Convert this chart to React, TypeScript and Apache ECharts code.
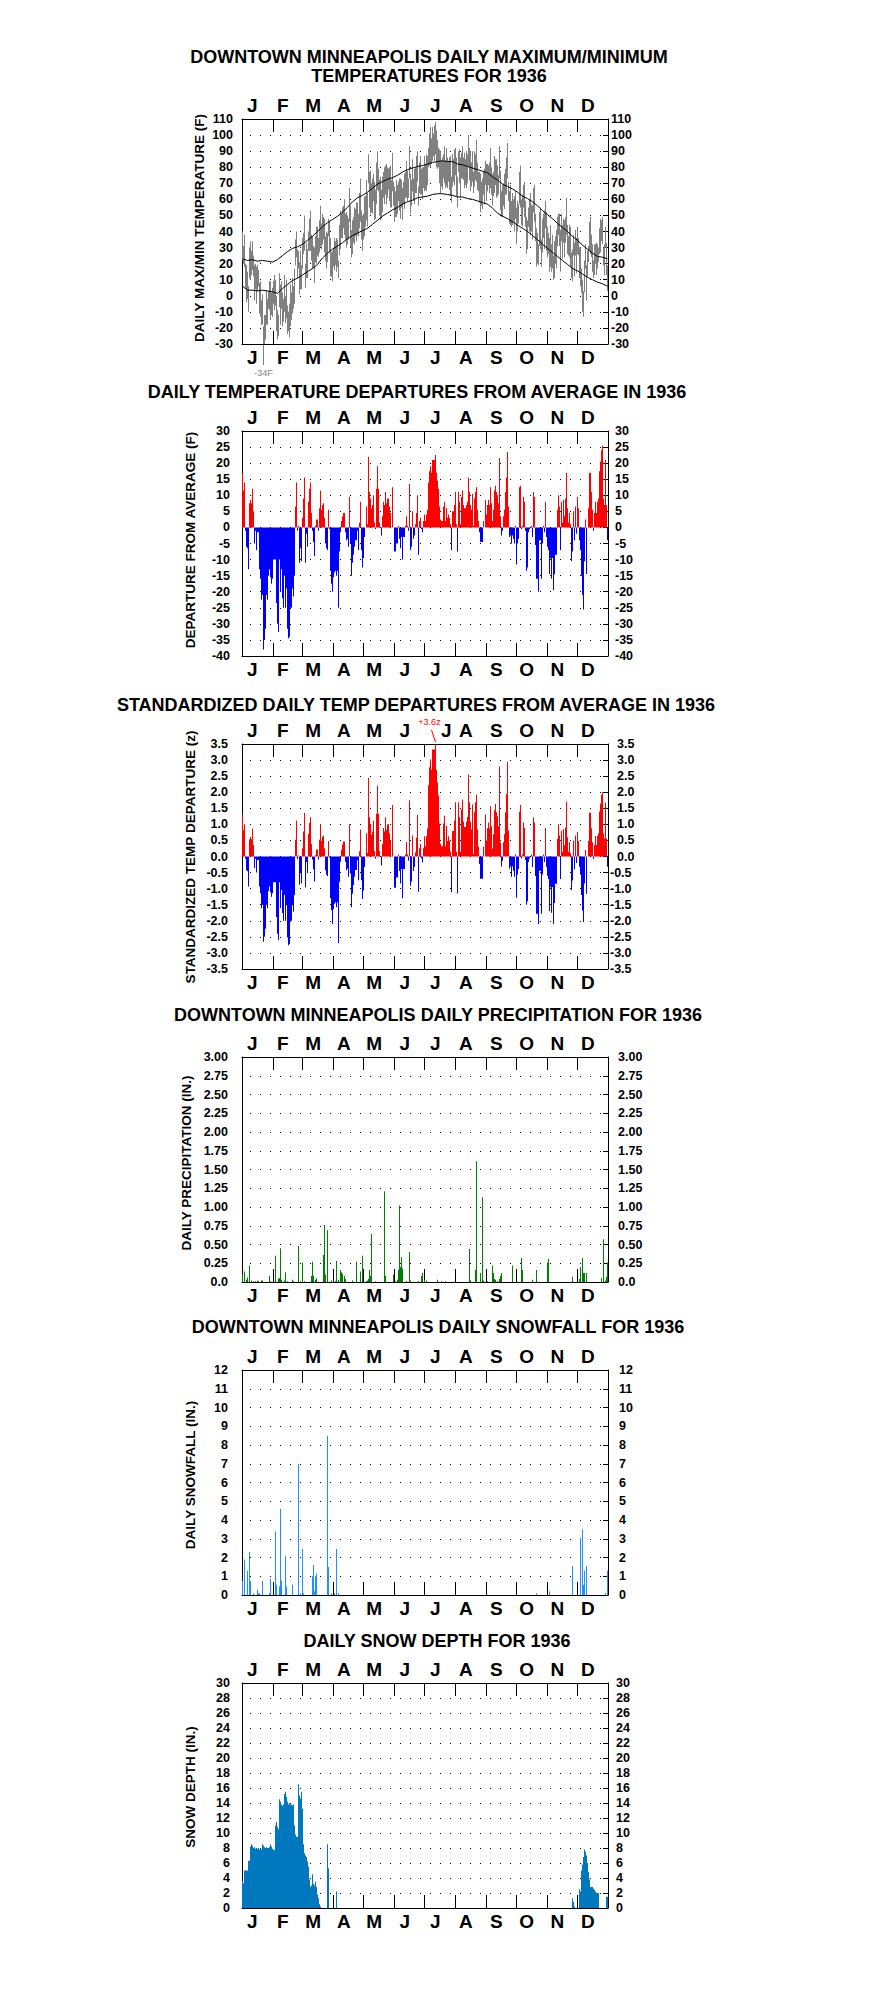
import React, { useEffect, useRef } from 'react';
import * as echarts from 'echarts';

// ---------- categories ----------
const MONTH_LETTERS = ['J', 'F', 'M', 'A', 'M', 'J', 'J', 'A', 'S', 'O', 'N', 'D'];
const MONTH_LENGTHS = [31, 29, 31, 30, 31, 30, 31, 31, 30, 31, 30, 31];

// ---------- panel 1: daily max / min (F) ----------
const tempMax = [
  40, 31, 38, 20, 19, 15, 6, 30, 34, 28, 34, 25, 19, 20, 18, 19, 16, 8, 9, -3, 1, -19, -12, -12, 3, -2, 3, 9, 9, 2, 5,
  9, 13, 10, 0, -9, -12, 14, 7, 9, 2, -2, 13, 0, 10, -6, -10, -5, 7, 2, 11, 6, 17, 35, 40, 29, 28, 21, 28, 19,
  36, 39, 50, 20, 33, 29, 40, 48, 53, 38, 37, 31, 30, 37, 43, 43, 36, 47, 56, 45, 51, 49, 48, 37, 40, 39, 48, 46, 36, 27, 28,
  30, 36, 34, 36, 35, 22, 44, 53, 51, 55, 56, 60, 51, 52, 50, 48, 67, 56, 41, 47, 49, 55, 54, 58, 58, 51, 64, 73, 53, 50,
  51, 62, 62, 72, 64, 88, 77, 78, 70, 73, 76, 71, 66, 83, 90, 79, 72, 74, 66, 74, 77, 80, 81, 82, 80, 79, 80, 81, 72, 89, 71,
  68, 65, 72, 69, 71, 73, 73, 72, 67, 71, 76, 77, 84, 78, 73, 93, 76, 72, 85, 73, 79, 80, 87, 90, 68, 83, 87, 79, 80, 80,
  87, 82, 88, 87, 92, 101, 105, 98, 105, 101, 106, 108, 103, 97, 92, 91, 90, 84, 86, 88, 93, 84, 92, 86, 84, 86, 87, 74, 88, 85, 91,
  92, 86, 74, 90, 91, 86, 89, 93, 86, 89, 85, 90, 88, 100, 92, 90, 83, 90, 77, 90, 88, 97, 83, 77, 77, 76, 71, 73, 77, 79, 84,
  82, 82, 81, 83, 92, 80, 76, 77, 87, 85, 85, 81, 75, 93, 78, 65, 69, 70, 76, 79, 86, 95, 71, 65, 69, 59, 64, 60, 62, 65,
  55, 59, 57, 77, 81, 60, 63, 69, 71, 59, 49, 47, 55, 60, 64, 57, 56, 67, 69, 51, 42, 39, 32, 52, 55, 35, 48, 51, 53, 59, 52,
  43, 39, 36, 44, 32, 38, 25, 34, 37, 41, 49, 51, 51, 41, 51, 44, 48, 47, 49, 61, 44, 37, 44, 43, 27, 29, 38, 33, 41, 36,
  43, 36, 30, 30, 17, 10, 3, 22, 32, 19, 28, 31, 46, 49, 38, 32, 22, 32, 32, 33, 32, 30, 42, 48, 47, 49, 30, 32, 43, 33, 19,
];
const tempMin = [
  22, 20, 18, 5, -4, -2, -10, 11, 10, 13, 16, 12, -3, 4, -5, 3, 6, -11, -13, -18, -18, -34, -32, -27, -18, -18, -8, -9, -15, -12, -13,
  -5, -9, -6, -22, -27, -25, -7, -18, -8, -19, -16, -10, -17, -14, -24, -22, -26, -19, -15, -11, -8, -5, 19, 24, 11, 17, 1, 4, 4,
  17, 26, 28, 5, 11, 11, 28, 28, 28, 22, 17, 17, 8, 21, 20, 25, 24, 27, 31, 29, 32, 35, 27, 22, 17, 21, 37, 27, 12, 12, 9,
  18, 16, 19, 15, 18, 11, 25, 29, 36, 36, 42, 38, 35, 30, 32, 35, 46, 30, 24, 26, 33, 32, 37, 34, 38, 37, 42, 46, 35, 28,
  35, 37, 43, 47, 43, 70, 55, 51, 52, 51, 59, 47, 48, 57, 66, 65, 50, 47, 48, 52, 61, 57, 63, 57, 61, 66, 59, 55, 55, 65, 56,
  46, 49, 49, 51, 59, 53, 48, 55, 47, 57, 54, 61, 61, 59, 61, 73, 51, 56, 65, 59, 57, 64, 64, 71, 56, 64, 63, 63, 60, 67,
  65, 66, 65, 69, 80, 81, 80, 82, 84, 87, 84, 88, 80, 79, 80, 70, 64, 68, 66, 73, 70, 67, 68, 67, 71, 66, 62, 58, 68, 71, 69,
  75, 62, 55, 77, 70, 61, 73, 73, 72, 67, 69, 67, 70, 80, 72, 65, 68, 71, 64, 68, 72, 71, 66, 65, 58, 52, 56, 54, 63, 57, 69,
  59, 65, 69, 64, 67, 63, 56, 62, 64, 69, 61, 62, 63, 73, 53, 49, 49, 56, 54, 63, 63, 73, 59, 45, 44, 43, 44, 46, 40, 48,
  32, 40, 45, 57, 55, 44, 43, 55, 49, 43, 26, 29, 43, 40, 38, 40, 35, 52, 46, 34, 18, 20, 19, 31, 29, 18, 27, 36, 29, 42, 28,
  24, 26, 15, 18, 15, 17, 10, 11, 20, 17, 31, 38, 31, 15, 34, 23, 33, 24, 33, 38, 26, 25, 24, 18, 11, 9, 25, 12, 25, 14,
  26, 25, 11, 6, 2, -10, -13, 2, 17, -3, 12, 21, 28, 26, 24, 15, 11, 13, 20, 13, 17, 21, 26, 27, 34, 32, 19, 13, 30, 13, 3,
];
const normalDays = [
  0, 5, 10, 15, 20, 25, 30, 35, 40, 45, 50, 55, 60, 65, 70, 75, 80, 85, 90, 95, 100, 105, 110, 115, 120, 125, 130, 135, 140, 145,
  150, 155, 160, 165, 170, 175, 180, 185, 190, 195, 200, 205, 210, 215, 220, 225, 230, 235, 240, 245, 250, 255, 260, 265, 270,
  275, 280, 285, 290, 295, 300, 305, 310, 315, 320, 325, 330, 335, 340, 345, 350, 355, 360, 365,
];
const normalHigh = [
  23, 22, 22.5, 21.5, 22, 21.5, 21, 22.5, 25, 27.5, 29.5, 30.5, 32, 34.5, 37, 40, 43, 45.5, 47.5, 49.5, 52, 55, 58.5, 61, 62.5,
  64.5, 67, 69.5, 71, 72.5, 73.5, 75, 77, 78.5, 79.5, 80.5, 81, 82, 83, 83.5, 84, 83.5, 83.5, 82, 81.5, 80.5, 79.5, 78.5, 77.5,
  76.5, 74, 72, 69.5, 68, 66.5, 64.5, 62, 60.5, 58.5, 56, 53, 50.5, 48, 45, 42.5, 40, 37, 34.5, 31.5, 29, 26.5, 24.5, 24, 23,
];
const normalLow = [
  6, 3.5, 3.5, 3, 3.5, 3, 2.5, 1.5, 4.5, 7, 9.5, 11, 13, 15, 17, 19.5, 23.5, 26.5, 29, 31, 33, 35.5, 37.5, 39, 40.5, 42, 44.5,
  47, 49.5, 51.5, 53.5, 55, 57, 58.5, 59.5, 61, 61.5, 62, 63, 63.5, 63.5, 63, 62.5, 61.5, 61.5, 60.5, 60, 59, 58, 57, 54.5,
  51.5, 49.5, 48, 46, 44, 42, 40, 37.5, 35, 32, 29.5, 27, 24.5, 22, 19.5, 17, 15.5, 13.5, 11.5, 10, 8.5, 7.5, 6,
];

// ---------- panel 2: departure from average (F) ----------
const departure = [
  17, 11.5, 14, -1, -6, -6.5, -13, 7.5, 8.5, 7.5, 12, 5, -5, -1, -7, -1.5, -1.5, -13, -16, -22.5, -21, -38, -35, -31.5, -21, -22.5, -15, -13, -15.5, -17.5, -16,
  -10, -10, -10, -23.5, -30, -32.5, -10, -20, -13, -22, -25, -15, -25, -19, -31.5, -34.5, -34, -25, -25, -19, -21.5, -15, 6.5, 14, -1, 0.5, -11, -6.5, -10.5,
  3, 9, 15.5, -11, -2, -6, 8, 12, 14, 4.5, -1, -4.5, -9, 0.5, 2.5, 2.5, -1, 6, 11.5, 5.5, 7, 7.5, 3, -5, -6.5, -7, 5.5, -0.5, -13.5, -17.5, -20,
  -15.5, -14, -13.5, -15, -13.5, -25, -7.5, -1.5, 2, 3.5, 4.5, 4.5, -1.5, -4, -3.5, -6, 9.5, -5, -15, -11, -8.5, -6, -4, -4, -1, -7, 1.5, 8, -7, -12.5,
  -9.5, -3, 0, 6.5, 1, 22, 11, 9, 6, 7, 10, 1.5, -0.5, 12, 19, 12, 1.5, 0, -2.5, 3.5, 8, 7, 11, 7.5, 9, 9, 6.5, 4.5, 0, 12.5, 0,
  -7.5, -7.5, -5, -5, 0.5, -3.5, -6.5, -3, -10, -3, -3, 0.5, 3.5, 0.5, -1, 13.5, -7, -6, 5, -3.5, -2.5, 1, 4.5, 10, -8.5, 2, 3, -0.5, -1.5, 2,
  4, 2, 4, 5.5, 14, 17.5, 19, 17, 21, 21, 21, 22.5, 17, 14.5, 12, 6.5, 2.5, 2, 2, 6.5, 8, 2, 6, 3, 4, 3, 1, -7, 5, 5, 7,
  11, 1, -7.5, 11, 8, 1, 9.5, 11.5, 7, 6, 6, 7, 8, 15.5, 11, 7, 5.5, 10.5, 0.5, 9, 11, 12.5, 5.5, 2, -1.5, -4.5, -4.5, -4.5, 2, 0, 8.5,
  4, 7, 8.5, 7, 12.5, 7.5, 2, 5.5, 11.5, 13, 11, 10, 7.5, 21.5, 3.5, -2.5, -1, 3.5, 5.5, 11, 15.5, 23.5, 6.5, -3, -2.5, -5, -2.5, -3.5, -5, 0.5,
  -11.5, -5, -3.5, 12.5, 13, -0.5, 0.5, 9.5, 8, -1, -13.5, -12.5, -1.5, -0.5, 0, 0.5, -3, 11, 9.5, -5.5, -16, -16, -20, -4, -4, -16, -5, 0.5, -1.5, 8, -3,
  -6, -7, -14.5, -9.5, -16, -9.5, -19.5, -14.5, -8.5, -8.5, 5.5, 10, 6.5, -7, 8, 1.5, 8.5, 3.5, 9, 17, 6, 1.5, 4.5, 1, -10.5, -7.5, 5, -4, 6.5, -2,
  9.5, 6, -4, -7, -15, -21, -25.5, -10.5, 2.5, -14.5, 0, 6, 17, 17, 11, 5.5, -1, 4.5, 8, 4.5, 8, 9, 17.5, 20.5, 24, 25.5, 9, 7, 21, 7, -4,
];

// ---------- panel 3: standardized departure (z) ----------
const zScore = [
  1.28, 0.82, 1.0, -0.07, -0.43, -0.46, -0.93, 0.54, 0.61, 0.54, 0.86, 0.36, -0.36, -0.07, -0.5, -0.11, -0.11, -0.93, -1.14, -1.61, -1.5, -2.65, -2.5, -2.25, -1.5, -1.61, -1.07, -0.93, -1.11, -1.25, -1.14,
  -0.8, -0.8, -0.8, -1.88, -2.4, -2.6, -0.8, -1.6, -1.04, -1.76, -2.0, -1.2, -2.0, -1.52, -2.52, -2.76, -2.72, -2.0, -2.0, -1.52, -1.72, -1.2, 0.52, 1.12, -0.08, 0.04, -0.88, -0.52, -0.84,
  0.26, 0.78, 1.35, -0.96, -0.17, -0.52, 0.7, 1.04, 1.22, 0.39, -0.09, -0.39, -0.78, 0.04, 0.22, 0.22, -0.09, 0.52, 1.0, 0.48, 0.61, 0.65, 0.26, -0.43, -0.57, -0.61, 0.48, -0.04, -1.29, -1.67, -2.1,
  -1.63, -1.47, -1.42, -1.58, -1.42, -2.7, -0.79, -0.16, 0.21, 0.37, 0.47, 0.47, -0.16, -0.42, -0.37, -0.63, 1.0, -0.53, -1.58, -1.16, -0.89, -0.63, -0.42, -0.42, -0.11, -0.74, 0.16, 0.84, -0.74, -1.32,
  -1.06, -0.33, 0, 0.72, 0.11, 2.44, 1.22, 1.0, 0.67, 0.78, 1.11, 0.17, -0.06, 1.33, 2.2, 1.33, 0.17, 0, -0.28, 0.39, 0.89, 0.78, 1.22, 0.83, 1.0, 1.0, 0.72, 0.5, 0, 1.6, 0,
  -0.97, -0.97, -0.65, -0.65, 0.06, -0.45, -0.84, -0.39, -1.3, -0.39, -0.39, 0.06, 0.45, 0.06, -0.13, 1.75, -0.91, -0.78, 0.65, -0.45, -0.32, 0.13, 0.58, 1.3, -1.1, 0.26, 0.39, -0.06, -0.19, 0.26,
  0.63, 0.32, 0.63, 0.87, 2.22, 2.78, 3.02, 2.7, 3.33, 3.33, 3.33, 3.6, 2.7, 2.3, 1.9, 1.03, 0.4, 0.32, 0.32, 1.03, 1.27, 0.32, 0.95, 0.48, 0.63, 0.48, 0.16, -1.11, 0.79, 0.79, 1.11,
  1.69, 0.15, -1.15, 1.69, 1.23, 0.15, 1.46, 1.77, 1.08, 0.92, 0.92, 1.08, 1.23, 2.55, 1.69, 1.08, 0.85, 1.62, 0.08, 1.38, 1.69, 1.92, 0.85, 0.31, -0.23, -0.69, -0.69, -0.69, 0.31, 0, 1.31,
  0.5, 0.88, 1.06, 0.88, 1.56, 0.94, 0.25, 0.69, 1.44, 1.63, 1.38, 1.25, 0.94, 2.8, 0.44, -0.31, -0.13, 0.44, 0.69, 1.38, 1.94, 2.95, 0.81, -0.38, -0.31, -0.63, -0.31, -0.44, -0.63, 0.06,
  -1.28, -0.56, -0.39, 1.39, 1.6, -0.06, 0.06, 1.06, 0.89, -0.11, -1.5, -1.39, -0.17, -0.06, 0, 0.06, -0.33, 1.22, 1.06, -0.61, -1.78, -1.78, -2.1, -0.44, -0.44, -1.78, -0.56, 0.06, -0.17, 0.89, -0.33,
  -0.6, -0.7, -1.7, -0.95, -1.75, -0.95, -2.1, -1.45, -0.85, -0.85, 0.55, 1.0, 0.65, -0.7, 0.8, 0.15, 0.85, 0.35, 0.9, 1.7, 0.6, 0.15, 0.45, 0.1, -1.05, -0.75, 0.5, -0.4, 0.65, -0.2,
  0.76, 0.48, -0.32, -0.56, -1.2, -1.68, -2.04, -0.84, 0.2, -1.16, 0, 0.48, 1.36, 1.36, 0.88, 0.44, -0.08, 0.36, 0.64, 0.36, 0.64, 0.72, 1.4, 1.64, 1.92, 2.0, 0.72, 0.56, 1.68, 0.56, -0.32,
];

// ---------- panel 4: precipitation (in.), days with measurable amounts ----------
const precipDays = [
  0, 2, 4, 5, 7, 9, 11, 13, 15, 16, 19, 20, 27, 28, 33, 36, 37, 38, 39, 42, 43, 45, 50, 51, 56, 58, 60, 62, 69, 70,
  71, 73, 74, 81, 82, 83, 85, 89, 91, 93, 94, 96, 98, 99, 100, 102, 103, 110, 114, 118, 120, 124, 125, 126, 127, 128, 129, 133, 142, 143,
  151, 153, 155, 156, 157, 158, 159, 160, 164, 167, 168, 176, 179, 180, 182, 184, 195, 199, 203, 227, 228, 233, 234, 238, 240, 241, 245, 250, 251, 252,
  253, 255, 257, 258, 259, 270, 279, 280, 290, 294, 305, 306, 330, 337, 338, 340, 341, 342, 344, 359, 361, 363, 364, 365,
];
const precipValues = [
  0.10, 0.14, 0.03, 0.06, 0.22, 0.02, 0.01, 0.01, 0.02, 0.01, 0.02, 0.02, 0.08, 0.01, 0.35, 0.05, 0.05, 0.45, 0.03, 0.02, 0.13, 0.01, 0.03, 0.01, 0.48, 0.01, 0.26, 0.01, 0.08, 0.27,
  0.08, 0.03, 0.05, 0.36, 0.76, 0.10, 0.69, 0.02, 0.01, 0.01, 0.28, 0.03, 0.16, 0.13, 0.11, 0.08, 0.04, 0.02, 0.27, 0.14, 0.35, 0.01, 0.02, 0.04, 0.16, 0.08, 0.64, 0.01, 1.21, 0.08,
  0.10, 0.01, 0.03, 0.16, 1.02, 0.20, 0.33, 0.18, 0.01, 0.40, 0.02, 0.01, 0.08, 0.12, 0.03, 0.02, 0.03, 0.01, 0.01, 0.44, 0.02, 0.16, 1.61, 0.12, 1.13, 0.02, 0.01, 0.22, 0.12, 0.04,
  0.03, 0.01, 0.04, 0.08, 0.12, 0.22, 0.32, 0.16, 0.03, 0.16, 0.26, 0.31, 0.07, 0.04, 0.20, 0.32, 0.12, 0.12, 0.12, 0.05, 0.57, 0.02, 0.07, 0.26,
];

// ---------- panel 5: snowfall (in.) ----------
const snowDays = [
  0, 2, 5, 7, 8, 11, 15, 16, 17, 20, 27, 28, 33, 34, 37, 38, 39, 43, 44, 50, 56, 58, 60, 61, 70, 71, 72, 73, 74, 85,
  86, 89, 92, 94, 96, 294, 307, 330, 338, 340, 341, 342, 344, 363, 365,
];
const snowValues = [
  0.75, 1.9, 1.3, 2.3, 0.75, 0.1, 0.3, 0.1, 0.1, 0.75, 0.1, 0.85, 3.4, 0.55, 0.45, 4.6, 0.75, 2.1, 0.45, 0.55, 7.0, 0.1, 2.45, 0.1, 1.0, 1.6, 0.2, 1.0, 1.15, 8.5,
  1.5, 0.1, 0.1, 2.45, 0.1, 0.1, 0.2, 1.55, 3.05, 3.5, 0.55, 1.3, 1.55, 0.1, 1.3,
];

// ---------- panel 6: snow depth (in.) ----------
const depthSpring = [ // Jan 1 onward
  3.6, 3.3, 5, 5, 5, 5, 6.3, 6.3, 8.2, 8.5, 8.3, 8.0, 8.1, 7.9, 8.0, 7.9, 8.0, 7.8, 7.9, 7.8, 8.5, 8.3, 8.1, 8.0, 8.1, 8.0, 8.0, 8.1, 8.5, 8.2,
  7.9, 7.8, 7.7, 11, 11.5, 10.8, 10.5, 14.5, 14.2, 13.8, 13.6, 13.8, 15.2, 15.5, 14.8, 14.2, 13.8, 14.0, 13.8, 13.8, 13.7, 13.8, 11, 9.8, 9.5, 9.5, 16.5, 15, 14.6, 15.5,
  13.2, 8.5, 7.3, 7.0, 6.8, 6.2, 5.5, 3.8, 2.8, 3.0, 4.5, 3.2, 3.0, 3.5, 2.8, 1.8, 1.3, 0.5, 0.2, 0, 0, 0, 0, 0, 0, 8.5, 5.3, 0, 0, 0,
  0, 0, 0, 0, 2.2,
];
const depthFallStart = 330; // Nov 26
const depthFall = [
  1.3, 0.8, 0.2, 0, 0, 0, 0, 2.5, 2.2, 5, 5.8, 6.8, 7.8, 7.5, 7.0, 6.0, 4.8, 3.8, 2.8, 2.8, 2.8, 2.6, 2.4, 2.2, 2.0, 2.0, 2.0, 0, 0, 0,
  0, 0, 0, 0, 1.5, 1.5,
];

// ---------- styling ----------
const FONT = '"Liberation Sans", Arial, Helvetica, sans-serif';
const GRAY = '#808080';
const RED = '#ff0000';
const BLUE = '#0000ff';
const GREEN = '#008000';
const SNOW_BLUE = '#1e90ff';
const DEPTH_BLUE = '#0078be';
const GRID_LEFT = 242;
const GRID_WIDTH = 366;
const GRID_HEIGHT = 225;
const GRID_TOPS = [119, 431, 744, 1057, 1370, 1683];
const FIG_SPACE = '\u2007';

const PANELS = [
  { min: -30, max: 110, interval: 10, fmt: (v: number) => String(v), lm: 9, rm: 3,
    name: 'DAILY MAX/MIN TEMPERATURE (F)', nx: 199, ny: 228,
    titles: [['DOWNTOWN MINNEAPOLIS DAILY MAXIMUM/MINIMUM', 429, 57], ['TEMPERATURES FOR 1936', 429, 76]] },
  { min: -40, max: 30, interval: 5, fmt: (v: number) => String(v), lm: 12, rm: 7,
    name: 'DEPARTURE FROM AVERAGE (F)', nx: 190, ny: 540,
    titles: [['DAILY TEMPERATURE DEPARTURES FROM AVERAGE IN 1936', 417, 392]] },
  { min: -3.5, max: 3.5, interval: 0.5, fmt: (v: number) => v.toFixed(1), lm: 14, rm: 2,
    rfmt: (v: number) => (v >= 0 ? FIG_SPACE + v.toFixed(1) : v.toFixed(1)),
    name: 'STANDARDIZED TEMP DEPARTURE (z)', nx: 190, ny: 857,
    titles: [['STANDARDIZED DAILY TEMP DEPARTURES FROM AVERAGE IN 1936', 416, 705]] },
  { min: 0, max: 3, interval: 0.25, fmt: (v: number) => (v === 0 ? '0.0' : v.toFixed(2)), lm: 14, rm: 10,
    name: 'DAILY PRECIPITATION (IN.)', nx: 186, ny: 1163,
    titles: [['DOWNTOWN MINNEAPOLIS DAILY PRECIPITATION FOR 1936', 438, 1015]] },
  { min: 0, max: 12, interval: 1, fmt: (v: number) => String(v), lm: 14, rm: 11,
    name: 'DAILY SNOWFALL (IN.)', nx: 190, ny: 1475,
    titles: [['DOWNTOWN MINNEAPOLIS DAILY SNOWFALL FOR 1936', 438, 1327]] },
  { min: 0, max: 30, interval: 2, fmt: (v: number) => String(v), lm: 12, rm: 8,
    name: 'SNOW DEPTH (IN.)', nx: 190, ny: 1787,
    titles: [['DAILY SNOW DEPTH FOR 1936', 437, 1641]] },
] as any[];

const LETTER_STYLE = { fontSize: 19, fontWeight: 'bold', fontFamily: FONT, color: '#000' };

function buildOption() {
  const nDays = MONTH_LENGTHS.reduce((a, b) => a + b, 0);
  const days = Array.from({ length: nDays }, (_, i) => String(i));
  const monthStarts = new Set<number>();
  let acc = 0;
  MONTH_LENGTHS.forEach((len) => { monthStarts.add(acc); acc += len; });
  const tickAt = (i: number) => i > 0 && monthStarts.has(i);

  const grid: any[] = [];
  const xAxis: any[] = [];
  const yAxis: any[] = [];
  PANELS.forEach((p, g) => {
    grid.push({ left: GRID_LEFT, top: GRID_TOPS[g], width: GRID_WIDTH, height: GRID_HEIGHT, outerBoundsMode: 'none', containLabel: false });
    const dayAxis = (position: string) => ({
      type: 'category', gridIndex: g, position, data: days, boundaryGap: true,
      axisLine: { show: true, onZero: false, lineStyle: { color: '#000', width: 1 } },
      axisTick: { show: true, inside: true, length: 13, interval: tickAt, lineStyle: { color: '#000', width: 1 } },
      axisLabel: { show: false }, splitLine: { show: false },
    });
    // on the standardized panel the July letter makes room for the peak annotation
    const shiftJuly = g === 2;
    const monthAxis = (position: string) => ({
      type: 'category', gridIndex: g, position, data: MONTH_LETTERS, boundaryGap: true,
      axisLine: { show: false, onZero: false }, axisTick: { show: false }, splitLine: { show: false },
      axisLabel: {
        interval: 0, ...LETTER_STYLE, margin: 4, padding: [0, 10, 0, 0],
        formatter: (v: string, i: number) => (shiftJuly && position === 'top' && i === 6 ? `{jul|${v}}` : v),
        rich: { jul: { ...LETTER_STYLE, padding: [0, 0, 0, 22] } },
      },
    });
    xAxis.push(dayAxis('bottom'), dayAxis('top'), monthAxis('top'), monthAxis('bottom'));
    const labelStyle = { fontSize: 12.5, fontWeight: 'bold', fontFamily: FONT, color: '#000' };
    yAxis.push({
      type: 'value', gridIndex: g, position: 'left', min: p.min, max: p.max, interval: p.interval,
      axisLine: { show: true, onZero: false, lineStyle: { color: '#000', width: 1 } },
      axisTick: { show: false },
      axisLabel: { ...labelStyle, margin: p.lm, formatter: p.fmt },
      splitLine: { show: true, lineStyle: { color: '#000', width: 1, type: [1, 9], dashOffset: 2 } },
    }, {
      type: 'value', gridIndex: g, position: 'right', min: p.min, max: p.max, interval: p.interval,
      axisLine: { show: true, onZero: false, lineStyle: { color: '#000', width: 1 } },
      axisTick: { show: true, inside: true, length: 5, lineStyle: { color: '#000', width: 1 } },
      axisLabel: { ...labelStyle, margin: p.rm, formatter: p.rfmt || p.fmt },
      splitLine: { show: false },
    });
  });

  const bar = (g: number, data: number[], color: any) => ({
    type: 'bar', xAxisIndex: g * 4, yAxisIndex: g * 2, data, barWidth: 1, barGap: '0%',
    silent: true, clip: true, itemStyle: { color }, emphasis: { disabled: true },
  });

  const precipFull = days.map(() => 0);
  precipDays.forEach((d, i) => { precipFull[d] = precipValues[i]; });
  const snowFull = days.map(() => 0);
  snowDays.forEach((d, i) => { snowFull[d] = snowValues[i]; });
  const depthFull = days.map(() => 0);
  depthSpring.forEach((v, i) => { depthFull[i] = v; });
  depthFall.forEach((v, i) => { depthFull[depthFallStart + i] = v; });

  const signColor = (p: any) => (p.value >= 0 ? RED : BLUE);

  const series: any[] = [
    {
      type: 'custom', xAxisIndex: 0, yAxisIndex: 0, silent: true,
      data: tempMax.map((hi, i) => [i, tempMin[i], hi]),
      encode: { x: 0, y: [1, 2] },
      renderItem: (params: any, api: any) => {
        const d = api.value(0);
        const top = api.coord([d, api.value(2)]);
        const bottom = api.coord([d, api.value(1)]);
        const w = api.size([1, 0])[0];
        const cs = params.coordSys;
        const shape = echarts.graphic.clipRectByRect(
          { x: top[0] - w / 2, y: top[1], width: w, height: bottom[1] - top[1] },
          { x: cs.x, y: cs.y, width: cs.width, height: cs.height });
        return shape ? { type: 'rect', shape, style: { fill: GRAY } } : null;
      },
    },
    {
      type: 'line', xAxisIndex: 0, yAxisIndex: 0, silent: true, showSymbol: false, symbol: 'none', z: 5,
      data: normalDays.map((d, i) => [d, normalHigh[i]]), lineStyle: { color: '#000', width: 1 },
    },
    {
      type: 'line', xAxisIndex: 0, yAxisIndex: 0, silent: true, showSymbol: false, symbol: 'none', z: 5,
      data: normalDays.map((d, i) => [d, normalLow[i]]), lineStyle: { color: '#000', width: 1 },
    },
    bar(1, departure, signColor),
    bar(2, zScore, signColor),
    bar(3, precipFull, GREEN),
    bar(4, snowFull, SNOW_BLUE),
    bar(5, depthFull, DEPTH_BLUE),
  ];

  return { animation: false, backgroundColor: '#fff', grid, xAxis, yAxis, series };
}

function buildGraphics(chart: any) {
  const els: any[] = [];
  PANELS.forEach((p) => {
    p.titles.forEach((t: any) => {
      els.push({ type: 'text', x: t[1], y: t[2], silent: true,
        style: { text: t[0], fontSize: 18, fontWeight: 'bold', fontFamily: FONT, fill: '#000', align: 'center', verticalAlign: 'middle' } });
    });
    els.push({ type: 'text', x: p.nx, y: p.ny, rotation: Math.PI / 2, silent: true,
      style: { text: p.name, fontSize: 13.5, fontWeight: 'bold', fontFamily: FONT, fill: '#000', align: 'center', verticalAlign: 'middle' } });
  });

  // coldest reading annotation below panel 1
  const minVal = Math.min(...tempMin);
  const minIdx = tempMin.indexOf(minVal);
  const pMin = chart.convertToPixel({ xAxisIndex: 0, yAxisIndex: 0 }, [minIdx, PANELS[0].min]);
  if (pMin) {
    els.push({ type: 'line', silent: true, shape: { x1: pMin[0], y1: pMin[1], x2: pMin[0], y2: pMin[1] + 21 }, style: { stroke: GRAY, lineWidth: 1 } });
    els.push({ type: 'text', x: pMin[0], y: pMin[1] + 29, silent: true,
      style: { text: `${minVal}F`, fontSize: 9, fontFamily: FONT, fill: GRAY, align: 'center', verticalAlign: 'middle' } });
  }
  // largest z annotation above panel 3
  const maxZ = Math.max(...zScore);
  const zIdx = zScore.indexOf(maxZ);
  const pZ = chart.convertToPixel({ xAxisIndex: 8, yAxisIndex: 4 }, [zIdx, PANELS[2].max]);
  if (pZ) {
    els.push({ type: 'line', silent: true, shape: { x1: pZ[0], y1: pZ[1] - 2, x2: pZ[0] - 4, y2: pZ[1] - 14 }, style: { stroke: RED, lineWidth: 1 } });
    els.push({ type: 'text', x: pZ[0] - 6, y: pZ[1] - 22, silent: true,
      style: { text: `+${maxZ.toFixed(1)}z`, fontSize: 9, fontFamily: FONT, fill: RED, align: 'center', verticalAlign: 'middle' } });
  }
  return els;
}

export default function App() {
  const ref = useRef<HTMLDivElement>(null);
  useEffect(() => {
    if (!ref.current) return;
    const chart = echarts.init(ref.current, null, { renderer: 'svg' });
    chart.setOption(buildOption());
    chart.setOption({ graphic: buildGraphics(chart) });
    return () => chart.dispose();
  }, []);
  return <div ref={ref} style={{ position: 'absolute', left: 0, top: 0, width: 883, height: 1989, background: '#fff' }} />;
}
